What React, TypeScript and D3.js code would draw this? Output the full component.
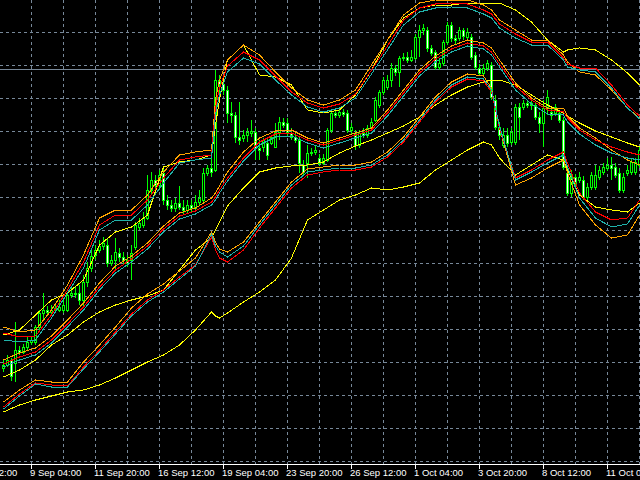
import React from "react";
import * as d3 from "d3";

// H4 candles, price in chart points (arbitrary units)
const open = [112,115,120,117,130,128,133,138,138,153,167,170,168,170,170,170,170,185,187,187,180,198,212,225,230,234,235,217,220,227,223,220,220,233,253,255,262,290,300,295,307,280,275,272,277,273,270,275,272,278,280,307,312,310,400,396,390,367,365,343,342,345,347,348,332,333,337,337,333,348,358,357,347,343,340,315,317,327,328,322,317,320,350,367,365,368,367,350,347,335,347,345,352,360,375,388,393,400,412,408,422,423,420,422,443,450,450,432,428,413,417,438,455,442,442,450,443,443,425,412,407,412,415,380,353,335,345,338,338,373,373,377,375,375,363,357,372,368,367,367,360,307,287,303,300,300,283,293,293,303,308,312,315,313,307,290,307,308,308,315];
const high = [120,125,122,158,134,136,143,144,155,170,187,174,175,177,180,180,188,192,193,195,205,218,230,235,240,243,242,225,242,232,228,225,235,258,262,268,305,308,305,310,312,285,280,282,294,280,280,280,285,290,312,315,322,410,405,400,394,378,368,378,350,352,360,352,340,342,343,345,357,363,362,362,352,347,343,320,335,332,334,326,326,352,370,372,372,371,370,357,350,350,352,355,362,383,390,403,405,417,415,424,427,428,430,446,455,456,453,435,430,422,440,458,458,445,453,452,452,446,428,416,416,420,418,385,358,352,352,352,376,377,380,380,380,378,368,380,390,372,376,370,363,312,310,306,308,304,297,308,315,314,317,322,323,317,312,307,315,322,322,334];
const low = [108,113,99,98,125,126,130,135,135,150,160,164,165,167,168,167,168,182,182,175,173,193,208,220,227,230,213,214,210,218,216,213,200,230,250,252,260,285,290,290,275,270,268,268,270,266,267,268,268,274,277,304,303,308,385,385,357,357,337,335,338,338,343,320,320,328,320,335,332,340,352,343,340,337,307,305,302,324,325,314,315,318,347,362,362,363,347,345,330,332,342,342,350,358,372,385,390,393,404,393,419,417,418,420,423,445,428,424,410,410,414,435,438,436,439,440,440,420,410,404,404,409,380,350,340,332,333,335,335,340,370,372,370,360,347,333,365,360,364,357,310,284,283,294,297,280,280,290,290,300,305,309,300,302,287,287,304,305,305,312];
const close = [115,120,104,130,128,133,138,140,153,167,170,168,170,172,173,175,185,187,186,180,198,212,224,230,234,237,217,220,228,223,220,217,227,255,257,262,290,300,295,305,280,275,272,277,273,270,275,272,278,282,307,312,308,400,396,390,367,365,343,340,345,348,349,332,330,340,325,343,348,358,355,348,343,340,317,308,327,328,330,317,322,350,367,365,368,366,350,353,335,347,345,352,358,380,388,400,400,412,408,422,423,420,423,443,450,452,432,427,413,417,438,455,442,440,450,444,448,423,413,407,412,417,383,353,345,345,337,348,373,363,377,375,377,363,357,372,383,365,373,360,313,287,303,297,303,283,293,305,305,310,313,315,312,305,290,303,310,318,318,330];

// indicator readings at these bar indices
const lineIdx = [0,4,8,12,16,20,24,28,32,36,40,44,48,52,53,54,56,60,64,68,72,76,80,84,88,92,96,100,104,108,112,116,120,122,124,128,132,136,140,141,144,148,152,156,159];
const orangeUpper = [153,148,150,170,195,225,262,270,270,285,308,325,328,330,380,400,420,435,425,408,392,380,375,380,390,415,440,465,477,480,480,480,475,470,460,450,440,440,425,418,408,405,390,372,362];
const redUpper = [147,143,144,165,190,218,255,265,265,280,302,320,323,325,372,392,414,428,420,404,388,377,372,376,386,410,434,460,472,476,477,476,470,466,456,446,438,438,422,416,412,412,395,375,364];
const cyanUpper = [140,138,140,162,187,212,250,260,260,275,297,317,320,322,365,385,408,422,416,400,385,373,368,372,382,406,430,455,468,472,473,472,466,462,452,442,435,435,420,413,410,408,392,372,361];
const orangeMid = [120,127,132,144,160,177,197,214,224,237,254,267,272,282,287,294,308,328,342,349,350,342,337,342,347,352,370,390,410,424,434,440,437,432,420,397,382,372,372,364,352,342,330,320,315];
const redMid = [116,123,128,140,156,173,193,210,221,234,251,264,269,278,283,290,302,322,338,346,347,340,335,340,345,350,367,387,407,421,431,437,434,428,416,394,380,370,368,362,350,340,333,328,325];
const cyanMid = [113,120,125,137,153,170,190,207,218,231,248,261,266,275,280,287,299,319,335,343,344,337,332,337,342,347,364,384,404,418,428,434,431,425,413,390,376,366,365,358,346,335,327,322,320];
const orangeLower = [78,90,100,98,98,118,135,153,172,186,196,209,222,248,238,231,228,238,258,278,298,311,313,315,315,318,328,343,363,383,398,406,404,392,352,295,302,312,320,307,275,255,242,245,265];
const redLower = [73,86,97,95,94,113,130,148,166,180,190,203,215,243,230,222,218,230,252,272,292,305,308,310,310,313,323,338,358,378,393,401,399,388,352,302,310,320,328,317,287,268,260,262,280];
const cyanLower = [71,84,96,93,93,111,128,146,164,178,188,201,214,246,234,228,223,234,255,275,295,308,310,312,312,315,325,340,360,380,395,403,401,390,354,300,308,317,325,313,282,262,253,256,275];
const yellowUpper = [145,150,165,180,187,200,235,248,253,265,313,318,320,325,355,380,420,435,405,403,395,370,367,370,385,410,440,462,472,475,475,477,477,477,477,470,458,440,428,430,432,430,420,407,395];
const yellowMid = [103,110,120,135,145,158,168,175,180,184,190,210,230,242,250,258,274,292,308,312,314,315,318,327,334,340,347,354,363,375,385,393,398,400,400,395,385,375,367,364,357,349,343,337,333];
const yellowLower = [68,75,80,84,88,90,95,102,110,118,125,135,150,168,164,162,167,178,188,200,222,260,270,280,285,292,290,293,297,310,320,330,338,335,322,305,315,325,320,310,285,273,270,268,277];

const bidLevel = 411.5;

const tickBars = [-9,7,23,39,55,71,87,103,119,135,151];
const tickLabels = ["4 Sep 12:00","9 Sep 04:00","11 Sep 20:00","16 Sep 12:00","19 Sep 04:00","23 Sep 20:00","26 Sep 12:00","1 Oct 04:00","3 Oct 20:00","8 Oct 12:00","11 Oct 04:00"];

const W = 640, H = 480;
const AXIS_Y = 464.5;

export default function App() {
  const x = d3.scaleLinear().domain([0, 159]).range([3.5, 639.5]);
  const y = d3.scaleLinear().domain([0, 480]).range([480, 0]);

  const lines: [number[], string][] = [
    [yellowUpper, "#FFFF00"], [yellowMid, "#FFFF00"], [yellowLower, "#FFFF00"],
    [orangeUpper, "#FFA500"], [orangeMid, "#FFA500"], [orangeLower, "#FFA500"],
    [redUpper, "#FF0000"], [redMid, "#FF0000"], [redLower, "#FF0000"],
    [cyanUpper, "#20B2AA"], [cyanMid, "#20B2AA"], [cyanLower, "#20B2AA"],
  ];
  const lineGen = (vals: number[]) =>
    d3.line<number>().x((_, i) => x(lineIdx[i])).y((v) => y(v)).curve(d3.curveLinear)(vals) || "";

  const vGrid = d3.range(31.5, 640, 32);
  const hGrid = d3.range(0, 14).map((k) => 32.5 + 33 * k);

  return (
    <svg width={W} height={H} style={{ position: "fixed", left: 0, top: 0, background: "#000" }}>
      <rect x={0} y={0} width={W} height={H} fill="#000" />
      <g stroke="#778899" strokeWidth={1} strokeDasharray="3,3" shapeRendering="crispEdges">
        {vGrid.map((gx) => <line key={"v" + gx} x1={gx} x2={gx} y1={0} y2={AXIS_Y - 0.5} />)}
        {hGrid.map((gy) => <line key={"h" + gy} x1={0} x2={W} y1={gy} y2={gy} />)}
      </g>
      <line x1={0} x2={W} y1={Math.round(y(bidLevel)) + 0.5} y2={Math.round(y(bidLevel)) + 0.5} stroke="#778899" strokeWidth={1} shapeRendering="crispEdges" />
      <g shapeRendering="crispEdges">
        {close.map((c, i) => {
          const cx = x(i);
          const o = open[i];
          const top = y(Math.max(o, c));
          const bot = y(Math.min(o, c));
          const bull = c >= o;
          return (
            <g key={i}>
              <line x1={cx} x2={cx} y1={y(high[i])} y2={y(low[i])} stroke="#00FF00" strokeWidth={1} />
              <rect x={cx - 1} y={top} width={2} height={Math.max(bot - top, 1)} fill={bull ? "#000" : "#FFFFFF"} stroke="#00FF00" strokeWidth={1} />
            </g>
          );
        })}
      </g>
      <g fill="none" strokeWidth={1} shapeRendering="crispEdges">
        {lines.map(([vals, col], k) => <path key={k} d={lineGen(vals)} stroke={col} />)}
      </g>
      <line x1={0} x2={W} y1={AXIS_Y} y2={AXIS_Y} stroke="#FFFFFF" strokeWidth={1} shapeRendering="crispEdges" />
      <g fontFamily="Liberation Sans, Arial, sans-serif" fontSize={9.5} fill="#FFFFFF">
        {tickBars.map((b, k) => {
          const tx = x(b);
          return (
            <g key={k}>
              <line x1={tx} x2={tx} y1={AXIS_Y} y2={AXIS_Y + 4} stroke="#FFFFFF" shapeRendering="crispEdges" />
              <text x={tx - 1.5} y={476}>{tickLabels[k]}</text>
            </g>
          );
        })}
      </g>
    </svg>
  );
}
